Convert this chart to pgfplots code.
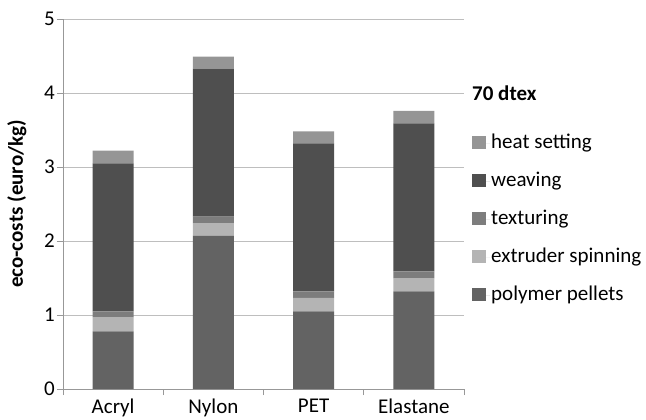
\documentclass[border=0pt]{standalone}
\usepackage{pgfplots}
\pgfplotsset{compat=1.18}
\usepackage{fontspec}
\setmainfont{Carlito}
\definecolor{pellets}{HTML}{636363}
\definecolor{extruder}{HTML}{B4B4B4}
\definecolor{texturing}{HTML}{7D7D7D}
\definecolor{weaving}{HTML}{4F4F4F}
\definecolor{heat}{HTML}{959595}
\definecolor{gridc}{HTML}{BEBEBE}
\begin{document}
\fontsize{21bp}{25bp}\selectfont
\begin{tikzpicture}
\useasboundingbox (-63bp,-31bp) rectangle (583bp,389bp);
\begin{axis}[
  at={(0,0)}, anchor=south west,
  scale only axis,
  width=401bp, height=370bp,
  ybar stacked,
  bar width=41bp,
  xmin=-0.5, xmax=3.5,
  ymin=0, ymax=5,
  ytick={0,1,2,3,4,5},
  xtick={-0.5,0.5,1.5,2.5,3.5},
  xticklabels={},
  extra x ticks={0,1,2,3},
  extra x tick labels={Acryl,Nylon,PET,Elastane},
  extra x tick style={tick style={draw=none}},
  axis x line*=bottom,
  axis y line*=left,
  axis line style={draw=gridc!80!black, line width=0.8bp, -},
  tick style={draw=gridc!80!black, line width=0.8bp},
  tick align=outside,
  major tick length=6bp,
  ymajorgrids,
  grid style={draw=gridc, line width=0.8bp},
  /pgf/number format/assume math mode=true,
  ticklabel style={font=\fontsize{21bp}{25bp}\selectfont},
  yticklabel style={inner sep=2bp},
  xticklabel style={inner sep=4bp},
  ylabel={\bfseries eco-costs (euro/kg)},
  ylabel style={font=\fontsize{21bp}{25bp}\selectfont, at={(-0.115,0.5)}, anchor=center},
  clip=false,
  reverse legend,
  legend cell align=left,
  legend style={
    at={(1.02,0.695)}, anchor=north west,
    draw=none, fill=none, inner sep=0pt,
    row sep=16bp,
    font=\fontsize{21bp}{25bp}\selectfont,
    nodes={inner sep=1bp, text height=15bp, text depth=5bp},
  },
  legend image code/.code={\fill[#1] (0bp,-6bp) rectangle (14bp,7bp); \path (0bp,0bp) -- (18bp,0bp);},
]
\addplot[fill=pellets, draw=none] coordinates {(0,0.78) (1,2.07) (2,1.05) (3,1.32)};
\addlegendentry{polymer pellets}
\addplot[fill=extruder, draw=none] coordinates {(0,0.19) (1,0.17) (2,0.18) (3,0.18)};
\addlegendentry{extruder spinning}
\addplot[fill=texturing, draw=none] coordinates {(0,0.08) (1,0.09) (2,0.09) (3,0.09)};
\addlegendentry{texturing}
\addplot[fill=weaving, draw=none] coordinates {(0,2.00) (1,2.00) (2,2.00) (3,2.00)};
\addlegendentry{weaving}
\addplot[fill=heat, draw=none] coordinates {(0,0.17) (1,0.16) (2,0.16) (3,0.17)};
\addlegendentry{heat setting}
\node[anchor=west, inner sep=0pt, font=\fontsize{21bp}{25bp}\selectfont\bfseries] at ([xshift=8bp]axis cs:3.5,4) {70 dtex};
\end{axis}
\end{tikzpicture}
\end{document}
